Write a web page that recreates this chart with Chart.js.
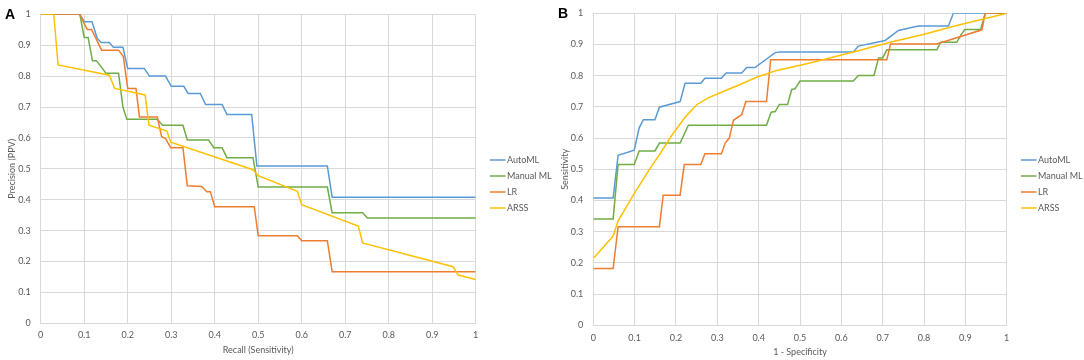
<!DOCTYPE html>
<html>
<head>
<meta charset="utf-8">
<script src="https://cdn.jsdelivr.net/npm/chart.js@4.4.1/dist/chart.umd.min.js"></script>
<style>
  html, body { margin: 0; padding: 0; background: #fff; }
  body { width: 1084px; height: 360px; position: relative; overflow: hidden; }
  .panel { position: absolute; top: 0; height: 360px; }
  .letter { position: absolute; font: bold 14px "Liberation Sans", Arial, sans-serif; line-height: 14px; color: #000; }
</style>
</head>
<body>
<div class="panel" style="left:0;width:565px"><canvas id="chartA" width="565" height="360"></canvas></div>
<div class="panel" style="left:545px;width:539px"><canvas id="chartB" width="539" height="360"></canvas></div>
<div class="letter" style="left:5px;top:6.5px">A</div>
<div class="letter" style="left:558px;top:5.5px">B</div>

<script>
// =======================
// DATA
// =======================
const seriesNames = ["AutoML", "Manual ML", "LR", "ARSS"];
const seriesColors = ["#5B9BD5", "#70AD47", "#ED7D31", "#FFC000"];
const tickLabels = ["0", "0.1", "0.2", "0.3", "0.4", "0.5", "0.6", "0.7", "0.8", "0.9", "1"];

// panel A - precision / recall
const prAutomlX = [0, 0.09, 0.1, 0.118, 0.13, 0.139, 0.158, 0.167, 0.189, 0.2, 0.238, 0.25, 0.287, 0.3, 0.329, 0.339, 0.367, 0.379, 0.417, 0.428, 0.485, 0.497, 0.659, 0.67, 1];
const prAutomlY = [1, 1, 0.976, 0.976, 0.922, 0.909, 0.909, 0.893, 0.893, 0.825, 0.825, 0.8, 0.8, 0.767, 0.767, 0.744, 0.744, 0.708, 0.708, 0.676, 0.676, 0.509, 0.509, 0.408, 0.408];

const prManualX = [0, 0.09, 0.1, 0.109, 0.119, 0.128, 0.15, 0.179, 0.189, 0.198, 0.268, 0.28, 0.327, 0.337, 0.386, 0.398, 0.417, 0.428, 0.488, 0.5, 0.659, 0.67, 0.74, 0.751, 1];
const prManualY = [1, 1, 0.925, 0.925, 0.85, 0.85, 0.809, 0.809, 0.7, 0.66, 0.66, 0.641, 0.641, 0.593, 0.593, 0.568, 0.568, 0.536, 0.536, 0.441, 0.441, 0.358, 0.358, 0.341, 0.341];

const prLrX = [0, 0.09, 0.1, 0.107, 0.117, 0.14, 0.179, 0.19, 0.2, 0.219, 0.227, 0.268, 0.278, 0.287, 0.299, 0.327, 0.337, 0.37, 0.382, 0.39, 0.4, 0.491, 0.5, 0.59, 0.6, 0.659, 0.67, 1];
const prLrY = [1, 1, 0.97, 0.951, 0.951, 0.884, 0.884, 0.863, 0.76, 0.76, 0.668, 0.668, 0.604, 0.598, 0.568, 0.568, 0.445, 0.443, 0.426, 0.426, 0.377, 0.377, 0.283, 0.283, 0.267, 0.267, 0.167, 0.167];

const prArssX = [0, 0.03, 0.04, 0.158, 0.17, 0.24, 0.249, 0.29, 0.299, 0.488, 0.5, 0.59, 0.6, 0.73, 0.74, 0.948, 0.96, 1];
const prArssY = [1, 1, 0.836, 0.803, 0.76, 0.739, 0.641, 0.622, 0.586, 0.497, 0.478, 0.427, 0.384, 0.315, 0.26, 0.183, 0.156, 0.142];

// panel B - ROC
const rocAutomlX = [0, 0.048, 0.06, 0.099, 0.111, 0.121, 0.149, 0.16, 0.21, 0.222, 0.26, 0.27, 0.31, 0.321, 0.359, 0.371, 0.391, 0.44, 0.452, 0.629, 0.641, 0.706, 0.738, 0.786, 0.859, 0.871, 1];
const rocAutomlY = [0.408, 0.408, 0.545, 0.561, 0.633, 0.659, 0.659, 0.699, 0.717, 0.776, 0.776, 0.792, 0.792, 0.809, 0.809, 0.826, 0.826, 0.874, 0.876, 0.876, 0.895, 0.913, 0.945, 0.959, 0.959, 1, 1];

const rocManualX = [0, 0.048, 0.06, 0.099, 0.111, 0.149, 0.16, 0.21, 0.23, 0.419, 0.43, 0.44, 0.45, 0.47, 0.48, 0.488, 0.5, 0.629, 0.641, 0.679, 0.69, 0.7, 0.71, 0.831, 0.84, 0.879, 0.891, 0.899, 0.937, 0.948, 1];
const rocManualY = [0.341, 0.341, 0.515, 0.515, 0.559, 0.559, 0.584, 0.584, 0.641, 0.641, 0.683, 0.685, 0.708, 0.708, 0.756, 0.758, 0.783, 0.783, 0.801, 0.801, 0.857, 0.857, 0.883, 0.883, 0.907, 0.907, 0.934, 0.948, 0.948, 1, 1];

const rocLrX = [0, 0.048, 0.06, 0.16, 0.169, 0.21, 0.22, 0.26, 0.27, 0.31, 0.319, 0.329, 0.339, 0.359, 0.369, 0.419, 0.429, 0.71, 0.719, 0.831, 0.94, 0.948, 1];
const rocLrY = [0.182, 0.182, 0.316, 0.316, 0.417, 0.417, 0.515, 0.515, 0.55, 0.55, 0.584, 0.6, 0.657, 0.675, 0.717, 0.717, 0.851, 0.851, 0.902, 0.902, 0.947, 1, 1];

const rocArssX = [0, 0.048, 0.06, 0.099, 0.133, 0.16, 0.19, 0.222, 0.25, 0.278, 0.31, 0.355, 0.395, 0.444, 0.524, 0.629, 0.718, 0.798, 0.879, 1];
const rocArssY = [0.214, 0.286, 0.335, 0.422, 0.494, 0.547, 0.609, 0.667, 0.707, 0.729, 0.747, 0.772, 0.795, 0.817, 0.841, 0.876, 0.907, 0.932, 0.961, 1];

// =======================
// HELPERS
// =======================
Chart.defaults.font.family = "Lato";
Chart.defaults.font.size = 9;
Chart.defaults.color = "#595959";

function toPoints(xs, ys) {
  return xs.map((x, i) => ({ x: x, y: ys[i] }));
}

function makeDatasets(pairs) {
  return pairs.map((p, i) => ({
    label: seriesNames[i],
    data: toPoints(p[0], p[1]),
    borderColor: seriesColors[i],
    backgroundColor: seriesColors[i],
    borderWidth: 1.5,
    showLine: true,
    pointRadius: 0,
    tension: 0,
    order: pairs.length - i   // ARSS on top, like excel
  }));
}

// legend drawn beside the plot
const sideLegend = {
  id: "sideLegend",
  afterDraw(chart, args, opts) {
    const { ctx, chartArea } = chart;
    ctx.save();
    ctx.font = "9px Lato";
    ctx.textBaseline = "middle";
    ctx.textAlign = "left";
    chart.data.datasets.forEach((ds, i) => {
      const y = opts.top + i * 16;
      const x = chartArea.right + opts.gap;
      ctx.strokeStyle = ds.borderColor;
      ctx.lineWidth = 1.5;
      ctx.beginPath();
      ctx.moveTo(x, y);
      ctx.lineTo(x + 15.5, y);
      ctx.stroke();
      ctx.fillStyle = "#595959";
      ctx.fillText(ds.label, x + 17, y);
    });
    ctx.restore();
  }
};

function axis(title, size, tickPad, titlePad) {
  return {
    type: "linear",
    min: 0,
    max: 1,
    ticks: {
      stepSize: 0.1,
      padding: tickPad,
      autoSkip: false,
      maxRotation: 0,
      callback: (value, index) => tickLabels[index]
    },
    grid: { color: "#d9d9d9", lineWidth: 1, drawTicks: false },
    border: { color: "#d9d9d9", width: 1 },
    title: { display: true, text: title, font: { size: 9 }, color: "#595959", padding: titlePad },
    afterFit(scale) {
      if (scale.isHorizontal()) {
        scale.height = size;
        scale.paddingLeft = 0;
        scale.paddingRight = 0;
      } else {
        scale.width = size;
        scale.paddingTop = 0;
        scale.paddingBottom = 0;
      }
    }
  };
}

function makeChart(id, datasets, cfg) {
  return new Chart(document.getElementById(id), {
    type: "scatter",
    data: { datasets: datasets },
    options: {
      responsive: false,
      animation: false,
      layout: { padding: cfg.padding },
      scales: {
        x: axis(cfg.xTitle, cfg.xHeight, cfg.xTickPad, { top: 0, bottom: cfg.xTitlePad }),
        y: axis(cfg.yTitle, cfg.yWidth, 10, { top: cfg.yTitlePad, bottom: 0 })
      },
      plugins: {
        legend: { display: false },
        tooltip: { enabled: false },
        sideLegend: { top: 160, gap: 14.3 }
      }
    },
    plugins: [sideLegend]
  });
}

// =======================
// CHARTS
// =======================
makeChart("chartA", makeDatasets([
  [prAutomlX, prAutomlY],
  [prManualX, prManualY],
  [prLrX, prLrY],
  [prArssX, prArssY]
]), {
  padding: { left: 0, right: 89.3, top: 14.3, bottom: 0 },
  xTitle: "Recall (Sensitivity)",
  yTitle: "Precision (PPV)",
  xHeight: 36.7, yWidth: 40.7,
  xTickPad: 6.5, xTitlePad: 4.5, yTitlePad: 6.3
});

makeChart("chartB", makeDatasets([
  [rocAutomlX, rocAutomlY],
  [rocManualX, rocManualY],
  [rocLrX, rocLrY],
  [rocArssX, rocArssY]
]), {
  padding: { left: 0, right: 77.3, top: 13.3, bottom: 0 },
  xTitle: "1 - Specificity",
  yTitle: "Sensitivity",
  xHeight: 34.7, yWidth: 48.3,
  xTickPad: 7, xTitlePad: 3, yTitlePad: 15
});
</script>
</body>
</html>
